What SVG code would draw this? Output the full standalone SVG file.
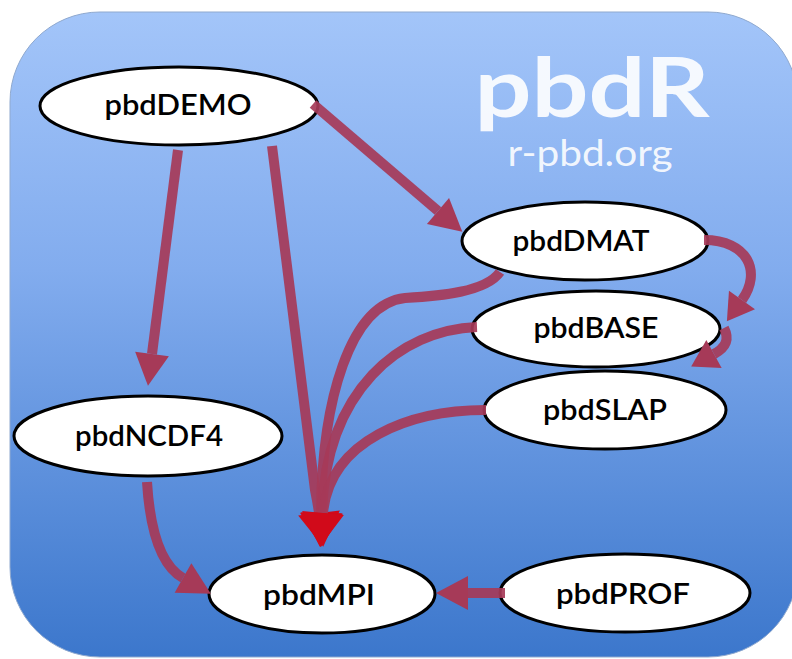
<svg xmlns="http://www.w3.org/2000/svg" width="792" height="659" viewBox="0 0 792 659">
  <defs>
    <linearGradient id="bg" x1="0" y1="0" x2="0" y2="1">
      <stop offset="0" stop-color="#a3c5f9"/>
      <stop offset="0.4" stop-color="#82acee"/>
      <stop offset="1" stop-color="#3c77cc"/>
    </linearGradient>
    <marker id="ah" markerUnits="userSpaceOnUse" markerWidth="40" markerHeight="40" refX="0" refY="17" orient="auto" overflow="visible">
      <path d="M0,0 L32,17 L0,34 z" fill="#a63a58"/>
    </marker>
    <marker id="ahs" markerUnits="userSpaceOnUse" markerWidth="40" markerHeight="40" refX="0" refY="16" orient="auto" overflow="visible">
      <path d="M0,0 L26,16 L0,32 z" fill="#a63a58"/>
    </marker>
    <marker id="ahr" markerUnits="userSpaceOnUse" markerWidth="50" markerHeight="50" refX="0" refY="21" orient="auto" overflow="visible">
      <path d="M0,0 L34,21 L0,42 z" fill="#d10a1a"/>
    </marker>
  </defs>
  <style>
    .node ellipse { fill: #ffffff; stroke: #000000; stroke-width: 3; }
    .node text { font-family: Lato, "Open Sans", "Liberation Sans", sans-serif; font-size: 28px; font-weight: 600; fill: #000000; text-anchor: middle; }
    .edge { fill: none; stroke: #a63a58; stroke-width: 10; stroke-opacity: 0.92; }
    .title { font-family: Lato, "Open Sans", "Liberation Sans", sans-serif; fill: #ffffff; fill-opacity: 0.9; text-anchor: middle; }
  </style>

  <rect x="10" y="12" width="788" height="645" rx="90" ry="90" fill="url(#bg)" stroke="#8fa9cf" stroke-width="1"/>

  <g id="title">
    <text class="title" x="592" y="117" font-size="82" font-weight="bold" textLength="235" lengthAdjust="spacingAndGlyphs">pbdR</text>
    <text class="title" x="590" y="166" font-size="36" textLength="165" lengthAdjust="spacingAndGlyphs">r-pbd.org</text>
  </g>

  <g id="pbdDEMO" class="node">
    <ellipse cx="179" cy="106" rx="139" ry="39"/>
    <text x="178" y="115" textLength="147" lengthAdjust="spacingAndGlyphs">pbdDEMO</text>
  </g>
  <g id="pbdDMAT" class="node">
    <ellipse cx="585" cy="241" rx="123" ry="39"/>
    <text x="581" y="251" textLength="137" lengthAdjust="spacingAndGlyphs">pbdDMAT</text>
  </g>
  <g id="pbdBASE" class="node">
    <ellipse cx="596" cy="329" rx="124" ry="38"/>
    <text x="596" y="338" textLength="125" lengthAdjust="spacingAndGlyphs">pbdBASE</text>
  </g>
  <g id="pbdSLAP" class="node">
    <ellipse cx="605" cy="410" rx="121" ry="39"/>
    <text x="605" y="420" textLength="124" lengthAdjust="spacingAndGlyphs">pbdSLAP</text>
  </g>
  <g id="pbdNCDF4" class="node">
    <ellipse cx="148" cy="436" rx="134" ry="40"/>
    <text x="149" y="446" textLength="148" lengthAdjust="spacingAndGlyphs">pbdNCDF4</text>
  </g>
  <g id="pbdMPI" class="node">
    <ellipse cx="322" cy="594" rx="113" ry="39"/>
    <text x="319" y="605" textLength="112" lengthAdjust="spacingAndGlyphs">pbdMPI</text>
  </g>
  <g id="pbdPROF" class="node">
    <ellipse cx="625" cy="593" rx="125" ry="39"/>
    <text x="623" y="604" textLength="134" lengthAdjust="spacingAndGlyphs">pbdPROF</text>
  </g>

  <g id="connectors">
    <path class="edge" d="M313,104 L438,211" marker-end="url(#ah)"/>
    <path class="edge" d="M178,150 L152,354" marker-end="url(#ah)"/>
    <path class="edge" d="M272,146 L315,490 Q318,505 319,513" marker-end="url(#ahr)"/>
    <path class="edge" d="M500,272 C486,292 440,296 405,298 C350,304 322,400 321,513" marker-end="url(#ahr)"/>
    <path class="edge" d="M477,327 C400,330 326,390 322,513" marker-end="url(#ahr)"/>
    <path class="edge" d="M486,410 C410,410 330,440 323,513" marker-end="url(#ahr)"/>
    <path class="edge" d="M147,482 C150,530 160,565 183,578" marker-end="url(#ah)"/>
    <path class="edge" d="M505,593 L468,593" marker-end="url(#ah)"/>
    <path class="edge" d="M704,240 C748,240 762,272 742,300" marker-end="url(#ahs)"/>
    <path class="edge" d="M724,328 C730,340 725,348 714,354" marker-end="url(#ahs)"/>
  </g>
</svg>
